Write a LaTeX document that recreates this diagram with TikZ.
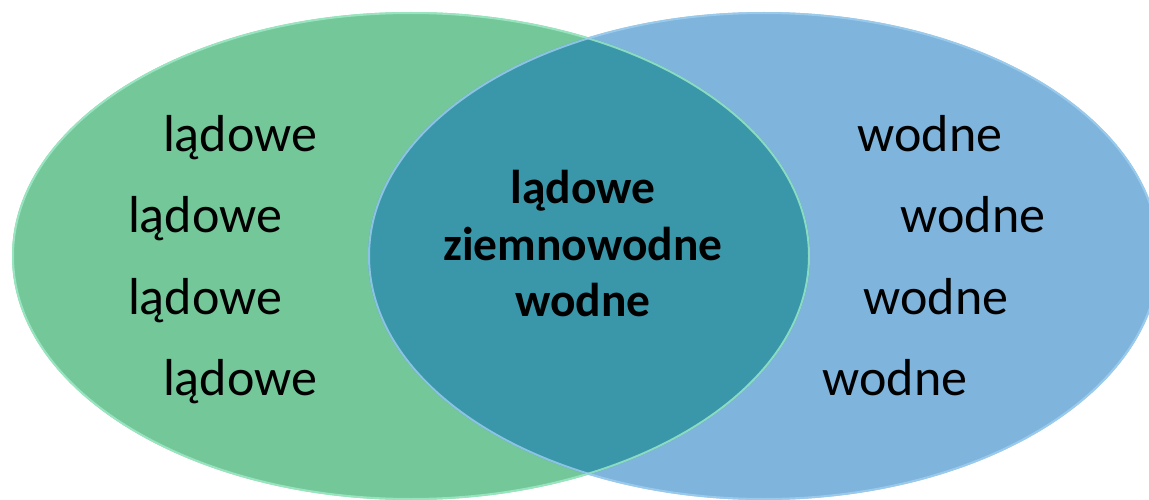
\documentclass[tikz,border=0pt]{standalone}
\usepackage{fontspec}
\setmainfont{Carlito}
\definecolor{gfill}{RGB}{115,199,153}
\definecolor{bfill}{RGB}{127,180,220}
\definecolor{tfill}{RGB}{58,151,170}
\definecolor{grim}{RGB}{160,236,200}
\definecolor{brim}{RGB}{160,208,240}
\begin{document}
\begin{tikzpicture}[x=1pt,y=-1pt,
  side/.style={font=\fontsize{52}{62}\selectfont, anchor=base, inner sep=0pt},
  mid/.style={font=\fontsize{47.5}{57}\selectfont\bfseries, anchor=base, inner sep=0pt}]
\useasboundingbox (0,0) rectangle (1149,500);
\fill[white] (0,0) rectangle (1149,500);
% ellipses
\fill[gfill] (411,256) ellipse [x radius=399, y radius=244];
\fill[bfill] (764,256) ellipse [x radius=396, y radius=244];
\begin{scope}
  \clip (411,256) ellipse [x radius=399, y radius=244];
  \fill[tfill] (764,256) ellipse [x radius=396, y radius=244];
\end{scope}
\draw[grim, line width=2pt, opacity=0.8] (411,256) ellipse [x radius=398, y radius=243];
\draw[brim, line width=2pt, opacity=0.8] (764,256) ellipse [x radius=395, y radius=243];
% left texts
\node[side] (l1) at (240,152) {lądowe};
\node[side] (l2) at (205,233) {lądowe};
\node[side] (l3) at (205,314) {lądowe};
\node[side] (l4) at (240,395) {lądowe};
% right texts
\node[side] (r1) at (930,152) {wodne};
\node[side] (r2) at (973,233) {wodne};
\node[side] (r3) at (936,314) {wodne};
\node[side] (r4) at (895,395) {wodne};
% middle
\node[mid] (m1) at (583,204) {lądowe};
\node[mid] (m2) at (583,260) {ziemnowodne};
\node[mid] (m3) at (583,316) {wodne};
\end{tikzpicture}
\end{document}
